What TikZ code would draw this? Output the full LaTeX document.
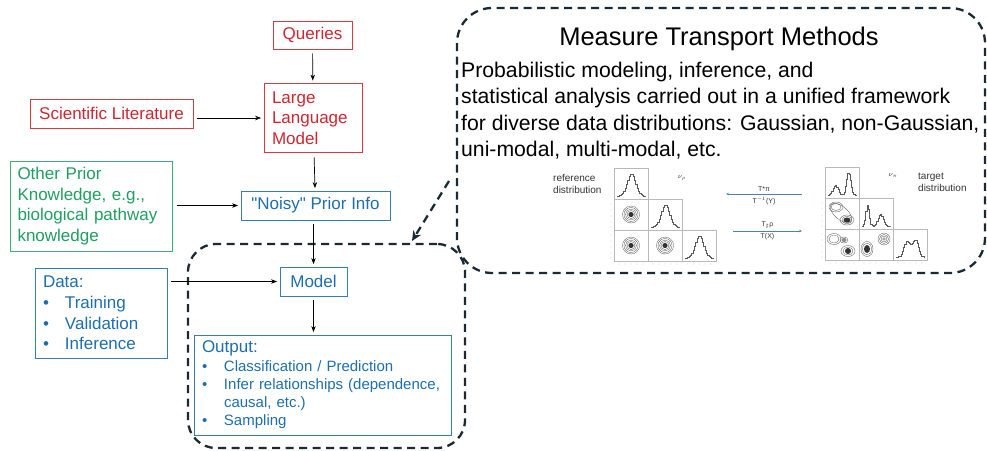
\documentclass[tikz,border=0pt]{standalone}
\usepackage{fontspec}
\setmainfont{Liberation Sans}[Ligatures=TeXOff]
\usetikzlibrary{arrows.meta, positioning}
\definecolor{litred}{RGB}{206,38,48}
\definecolor{priorgreen}{RGB}{30,158,96}
\definecolor{modelblue}{RGB}{30,110,172}
\definecolor{regiondark}{RGB}{26,42,50}
\definecolor{mapblue}{RGB}{78,128,184}
\tikzset{
  >={Stealth[length=6pt,width=4.5pt]},
  flow/.style={->, line width=0.7pt, shorten <=4pt, shorten >=2.5pt},
  box/.style={draw, line width=0.8pt, inner xsep=8pt, inner ysep=4pt, font=\fontsize{17}{20.7}\selectfont},
  red box/.style={box, draw=litred!90, text=litred},
  green box/.style={box, draw=priorgreen!85, text=priorgreen},
  blue box/.style={box, draw=modelblue!90, text=modelblue}
}
\tikzset{
  dashed region/.style={draw=regiondark, line width=2.3pt, dash pattern=on 8pt off 5.5pt},
  panel/.style={draw=gray!55, line width=0.4pt},
  hist/.style={draw=black!65, line width=0.4pt},
  contour/.style={draw=black!70, line width=0.3pt},
  map/.style={->, draw=mapblue, line width=0.6pt, >={Stealth[length=3pt,width=2.5pt]}},
  tiny label/.style={inner sep=1pt, font=\fontsize{7}{8}\selectfont, text=black!80}
}
\newcommand{\itemdot}{\makebox[22pt][l]{\textbullet}}

\begin{document}
\begin{tikzpicture}[x=1pt, y=-1pt,
  declare function={gs(\t,\m,\s)=exp(-((\t-\m)/\s)*((\t-\m)/\s));}]
\useasboundingbox (0,0) rectangle (987,450);

% dashed regions
\node[dashed region, rounded corners=35pt, minimum width=528pt, minimum height=265pt] (mtm) at (721,140.5) {};
\node[dashed region, rounded corners=28pt, minimum width=277pt, minimum height=204pt] (lm) at (326.5,346) {};

% left flow
\node[red box, minimum width=79pt, minimum height=28pt] (queries) at (312.5,35) {Queries};
\node[red box, text width=82pt, align=left, minimum height=69pt] (llm) at (313,118) {Large\\Language\\Model};
\node[red box, minimum width=163pt, minimum height=29pt] (scilit) at (111.5,113.5) {Scientific Literature};
\node[green box, text width=148pt, inner xsep=7pt, align=left, minimum height=90pt] (other) at (91.5,206) {Other Prior\\Knowledge, e.g.,\\biological pathway\\knowledge};
\node[blue box, minimum width=149pt, minimum height=29pt] (noisy) at (315.5,205.5) {"Noisy" Prior Info};
\node[blue box, minimum width=67pt, minimum height=29pt] (model) at (313.5,281.5) {Model};
\node[blue box, text width=116pt, align=left, minimum height=90pt] (data) at (101,313) {Data:\\\itemdot Training\\\itemdot Validation\\\itemdot Inference};
\node[blue box, text width=241pt, align=left, minimum height=100pt, font=\fontsize{15}{18.3}\selectfont] (output) at (322.5,385)
  {{\fontsize{17}{18}\selectfont Output:}\\\itemdot Classification / Prediction\\\itemdot Infer relationships (dependence,\\\hspace*{22pt}causal, etc.)\\\itemdot Sampling};

\draw[flow] (queries) -- (llm);
\draw[flow] (scilit.east |- llm) -- (llm.west);
\draw[flow] (llm) -- (noisy);
\draw[flow] (other.east |- noisy) -- (noisy.west);
\draw[flow] (model |- noisy.south) -- (model.north);
\draw[flow] (data.east |- model) -- (model.west);
\draw[flow] (model) -- (model |- output.north);

% measure transport text
\node[font=\fontsize{25.5}{30}\selectfont] (mtmtitle) at (719,39) {Measure Transport Methods};
\node[font=\fontsize{21.2}{26.3}\selectfont, align=left, anchor=north west, inner sep=0pt] (mtmtext) at (461,62)
  {Probabilistic modeling, inference, and\\statistical analysis carried out in a unified framework\\for diverse data distributions: Gaussian, non-Gaussian,\\uni-modal, multi-modal, etc.};

\coordinate (mtmtail) at (449,181);
\coordinate (lmhead) at (412,241);
\draw[dashed region, -{Stealth[length=10pt,width=9pt]}] (mtmtail) -- (lmhead);

% corner plots
\foreach \c/\r in {0/0,0/1,1/1,0/2,1/2,2/2}{
  \draw[panel] ({614+34*\c},{168+31*\r}) rectangle ++(34,31);
  \draw[panel] ({825+34*\c},{167+31*\r}) rectangle ++(34,31);
}
\foreach \r in {1,2}
  \foreach \t in {5,11,17,23,28}{
    \fill[gray] (611,{168+31*\r+\t}) circle (0.45);
    \fill[gray] (822,{167+31*\r+\t}) circle (0.45);
  }
\foreach \c in {0,1,2}
  \foreach \t in {5,11,17,23,29}{
    \fill[gray] ({614+34*\c+\t},264) circle (0.45);
    \fill[gray] ({825+34*\c+\t},263) circle (0.45);
  }

% reference side
\foreach \c in {0,1,2}
  \draw[hist, shift={({614+34*\c},{168+31*\c})}] plot[const plot, domain=3:31, samples=22] (\x,{28-22*gs(\x,17,6)});
\foreach \c/\r in {0/1,0/2,1/2}{
  \begin{scope}[shift={({614+34*\c+17},{168+31*\r+15.5})}]
    \fill[black!80] (0,0) circle (2.6);
    \foreach \rad in {4,5.5,7,8.5}
      \draw[contour] (0,0) circle (\rad);
  \end{scope}
}

% target side
\draw[hist, shift={(825,167)}] plot[const plot, domain=3:31, samples=24] (\x,{28-22*(0.45*gs(\x,10,3.5)+gs(\x,23,3))});
\draw[hist, shift={(859,198)}] plot[const plot, domain=3:31, samples=24] (\x,{28-22*(0.95*gs(\x,8,2.3)+0.55*gs(\x,21,3.5))});
\draw[hist, shift={(893,229)}] plot[const plot, domain=3:31, samples=24] (\x,{28-20*(0.75*gs(\x,13,4)+0.85*gs(\x,22,4)+0.2*gs(\x,17,3))});
\begin{scope}[shift={(825,198)}]
  \draw[contour] (11,9) ellipse (5 and 3.5) (11,9) ellipse (7 and 5);
  \fill[black!80] (22,22) ellipse (3.5 and 2.5);
  \draw[contour] (22,22) ellipse (5 and 3.8) (22,22) ellipse (7 and 5);
  \draw[contour, rotate around={-40:(16,15)}] (16,15) ellipse (13 and 6.5);
\end{scope}
\begin{scope}[shift={(825,229)}]
  \draw[contour] (9,10) ellipse (5 and 4) (9,10) ellipse (7 and 5.5);
  \fill[black!45] (19,11) ellipse (2.5 and 2);
  \draw[contour] (19,11) ellipse (4 and 3);
  \fill[black!80] (23,22) circle (3);
  \draw[contour] (23,22) ellipse (5 and 4) (23,22) ellipse (7 and 5.5);
\end{scope}
\begin{scope}[shift={(859,229)}]
  \fill[black!80] (8,20) ellipse (3 and 4);
  \draw[contour] (8,20) ellipse (4.5 and 6) (8,20) ellipse (6 and 7.5);
  \fill[black!35] (25,10) circle (1.8);
  \foreach \rad in {3,4.5,6}
    \draw[contour] (25,10) circle (\rad);
\end{scope}

% plot labels and maps
\node[tiny label] (nurho) at (682,178) {$\nu_\rho$};
\node[tiny label] (nupi) at (893,175) {$\nu_\pi$};
\node[tiny label, font=\fontsize{10}{12}\selectfont, align=left, anchor=west] (refdist) at (552,184) {reference\\distribution};
\node[tiny label, font=\fontsize{10}{12}\selectfont, align=left, anchor=west] (targdist) at (917,182) {target\\distribution};
\coordinate (pullR) at (802,194);
\coordinate (pullL) at (726,194);
\coordinate (pushL) at (733,231);
\coordinate (pushR) at (802,231);
\draw[map] (pullR) -- (pullL) node[tiny label, midway, above=1.5pt] {T*π} node[tiny label, midway, below=1.5pt] {T$^{-1}$(Y)};
\draw[map] (pushL) -- (pushR) node[tiny label, midway, above=1.5pt] {T$_\sharp$ρ} node[tiny label, midway, below=1.5pt] {T(X)};
\end{tikzpicture}
\end{document}
